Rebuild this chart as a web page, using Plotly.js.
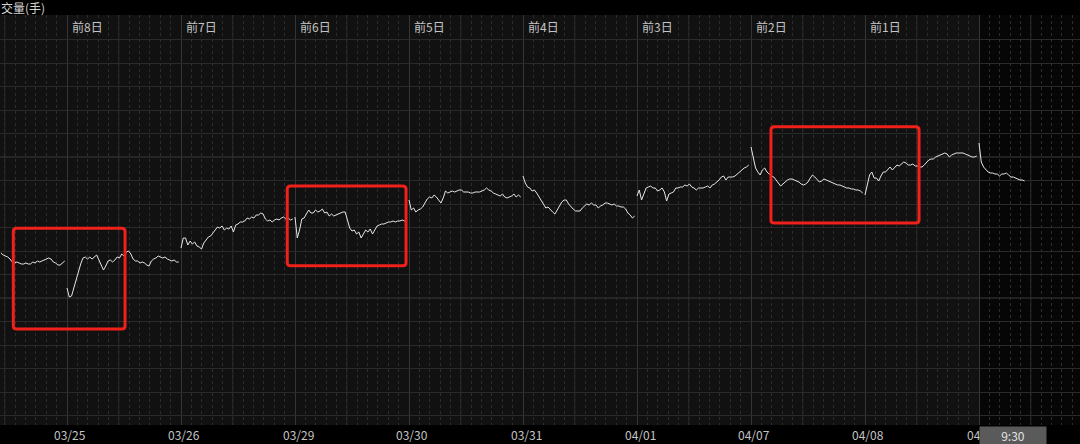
<!DOCTYPE html>
<html>
<head>
<meta charset="utf-8">
<script src="https://cdn.plot.ly/plotly-3.0.1.min.js"></script>
<style>
html,body{margin:0;padding:0;background:#000;}
#chart{width:1080px;height:444px;}
</style>
</head>
<body>
<div id="chart"></div>
<script>
// ---- data (level, arbitrary units; 50 samples per session) ----
const SAMPLES = 50;
const dates = ['03/24','03/25','03/26','03/29','03/30','03/31','04/01','04/07','04/08','04/09'];
const dayTags = ['', '前8日','前7日','前6日','前5日','前4日','前3日','前2日','前1日',''];
const todayTime = '9:30';
const panelTitle = '交量(手)';

const d0324 = [172,170,169,168,166,163,162,163,162,161,161,162,161,161,163,162,164,163,164,165,166,167,166,163,162,160,160,162,164]; // session tail
const d0325 = [137,128,129,137,145,155,161,167,168,166,168,166,168,170,165,160,155,159,164,165,163,165,168,167,171,169,173,174,171,166,164,164,162,163,162,160,159,164,166,167,169,168,167,168,166,165,164,165,163,163];
const d0326 = [177,187,187,180,184,181,183,179,178,176,182,185,188,189,192,195,198,197,199,195,197,196,199,193,200,201,203,203,204,207,206,208,207,210,210,212,211,206,204,205,203,205,206,205,207,208,206,207,205,206];
const d0329 = [208,187,195,206,207,211,215,212,212,215,213,214,216,212,213,209,211,209,210,211,212,213,213,206,197,194,195,191,193,187,191,195,193,196,191,195,199,200,201,201,202,203,203,204,203,204,204,205,204,205];
const d0330 = [225,215,217,213,215,216,218,222,226,228,227,230,228,225,222,227,234,232,233,234,233,234,235,235,233,233,233,232,232,233,233,233,234,235,237,235,234,232,231,230,229,231,228,227,228,229,231,228,230,228];
const d0331 = [249,242,238,237,234,235,232,228,225,221,217,218,215,213,211,215,219,223,225,225,221,218,216,214,214,214,217,219,221,220,222,220,220,217,219,220,222,222,221,220,221,219,219,218,218,216,212,210,207,209];
const d0401 = [229,235,225,232,237,238,239,237,237,234,235,237,233,224,231,232,233,237,237,238,238,240,239,241,238,237,235,237,237,237,238,239,237,240,241,243,245,248,249,245,248,248,248,249,251,253,255,257,258,260];
const d0407 = [278,267,257,253,250,255,257,253,251,249,248,245,242,239,241,243,245,246,246,245,244,243,241,240,241,243,247,250,248,245,243,244,246,245,244,243,242,241,240,240,239,238,237,237,236,236,235,235,234,232];
const d0408 = [230,242,250,253,247,247,244,249,253,253,256,258,255,258,260,259,261,263,262,260,260,261,259,259,258,258,260,263,265,266,266,268,269,270,271,272,271,268,270,271,272,272,272,272,271,270,269,268,268,269];
const d0409 = [282,263,258,255,253,252,252,251,251,249,251,251,252,250,248,248,247,246,245,245,244]; // session head

const sessions = [d0324,d0325,d0326,d0329,d0330,d0331,d0401,d0407,d0408,d0409];

// highlighted ranges: [dayFrom, dayTo, levelLow, levelHigh]
const highlights = [
  [-0.471, 0.509, 96, 196.7],
  [1.932, 2.974, 159.3, 239],
  [6.175, 7.474, 202, 298.3]
];

// ---- build trace ----
const xs = [], ys = [];
sessions.forEach((vals, s) => {
  const day = s - 1;
  const offset = (s === 0) ? SAMPLES - vals.length : 0;
  vals.forEach((v, i) => { xs.push(day + (offset + i) / SAMPLES); ys.push(v); });
  xs.push(day + 0.999); ys.push(null);
});

const DAY_PX = 114, FIRST_DAY_PX = 67;
const xRange = [-FIRST_DAY_PX / DAY_PX, (1080 - FIRST_DAY_PX) / DAY_PX];
const yRange = [0, 410];
const lastDay = dates.length - 2;

const gridVals = [];
for (let k = 0; k < 18; k++) { const v = 127 + 23.5 * k - 23.5 * 5; if (v > 0 && v < 411) gridVals.push(v); }
const brightVals = [127, 268];
const yTicks = gridVals.filter(v => !brightVals.some(b => Math.abs(b - v) < 1));

const dayStarts = [];
for (let d = -1; d <= lastDay; d++) dayStarts.push(d);

const shapes = [];
// today's darker area
shapes.push({type:'rect', xref:'x', yref:'paper', x0:lastDay, x1:xRange[1], y0:0, y1:1, fillcolor:'#060606', line:{width:0}, layer:'below'});
// midday lines
for (let d = -1; d <= lastDay; d++) {
  shapes.push({type:'line', xref:'x', yref:'paper', x0:d + 5/11, x1:d + 5/11, y0:0, y1:1, line:{color:'#2a2a2a', width:1}, layer:'below'});
}
brightVals.forEach(v => shapes.push({type:'line', xref:'paper', yref:'y', x0:0, x1:1, y0:v, y1:v, line:{color:'#3a3a3a', width:1}, layer:'below'}));

function roundRect(x0, x1, y0, y1) {
  const rx = 0.03, ry = 3;
  return `M ${x0+rx},${y1} L ${x1-rx},${y1} Q ${x1},${y1} ${x1},${y1-ry} L ${x1},${y0+ry} Q ${x1},${y0} ${x1-rx},${y0} ` +
         `L ${x0+rx},${y0} Q ${x0},${y0} ${x0},${y0+ry} L ${x0},${y1-ry} Q ${x0},${y1} ${x0+rx},${y1} Z`;
}
highlights.forEach(h => shapes.push({type:'path', xref:'x', yref:'y', path:roundRect(h[0], h[1], h[2], h[3]), line:{color:'#f0201a', width:3}, fillcolor:'rgba(0,0,0,0)', layer:'above'}));

const font = 'Noto Sans CJK SC, Microsoft YaHei, sans-serif';
const annotations = [];
annotations.push({xref:'paper', yref:'paper', x:0, y:(425-8)/410, xanchor:'left', yanchor:'middle', text:panelTitle, showarrow:false, borderpad:0, font:{family:font, size:12, color:'#d4d4d4'}});
dayTags.forEach((t, s) => {
  if (!t) return;
  annotations.push({xref:'x', yref:'y', x:(s - 1) + 3/DAY_PX, y:399, xanchor:'left', yanchor:'middle', text:t, showarrow:false, font:{family:font, size:12, color:'#c4c4c4'}});
});
dates.forEach((d, s) => {
  if (s === 0) return;
  annotations.push({xref:'x', yref:'paper', x:(s - 1) + 3/DAY_PX, y:-9/410, xanchor:'center', yanchor:'middle', text:d, showarrow:false, font:{family:font, size:12, color:'#c4c4c4'}});
});
annotations.push({xref:'paper', yref:'paper', x:1013/1080, y:-10/410, xanchor:'center', yanchor:'middle', text:todayTime, showarrow:false, width:66, height:17, bgcolor:'#5a5a5a', borderpad:0, font:{family:font, size:12, color:'#e2e2e2'}});

const trace = {x:xs, y:ys, type:'scatter', mode:'lines', connectgaps:false, line:{color:'#e6e6e6', width:1}, hoverinfo:'skip'};

const layout = {
  width:1080, height:444,
  margin:{l:0, r:0, t:15, b:19, pad:0},
  paper_bgcolor:'#000000', plot_bgcolor:'#111111',
  showlegend:false,
  xaxis:{range:xRange, tickmode:'array', tickvals:dayStarts, showticklabels:false, ticks:'',
         showgrid:true, gridcolor:'#363636', gridwidth:1, zeroline:false, showline:false, fixedrange:true,
         minor:{tickmode:'linear', tick0:0, dtick:1/11, showgrid:true, gridcolor:'#2c2c2c', griddash:'dot', ticks:''}},
  yaxis:{range:yRange, tickmode:'array', tickvals:yTicks, showticklabels:false, ticks:'',
         showgrid:true, gridcolor:'#2a2a2a', gridwidth:1, zeroline:false, showline:false, fixedrange:true},
  shapes:shapes, annotations:annotations
};

Plotly.newPlot('chart', [trace], layout, {displayModeBar:false, staticPlot:true});
</script>
</body>
</html>
